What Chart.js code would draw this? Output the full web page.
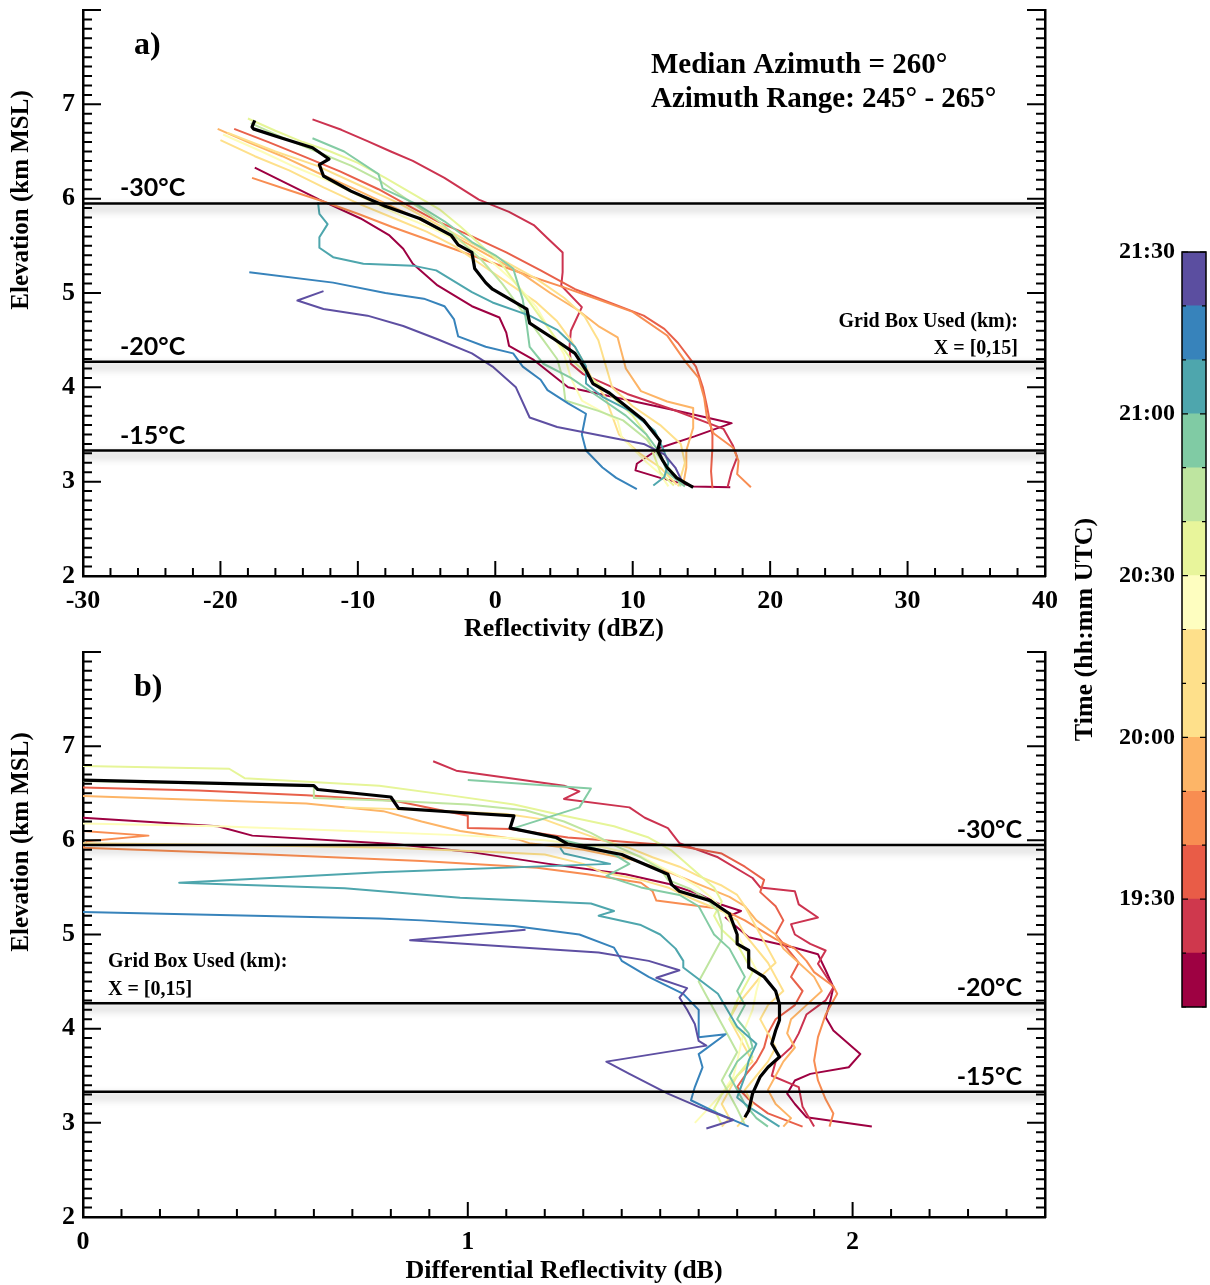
<!DOCTYPE html>
<html><head><meta charset="utf-8">
<script src="https://cdn.jsdelivr.net/npm/chart.js@4.4.1/dist/chart.umd.min.js"></script>
<style>
html,body{margin:0;padding:0;background:#fff;width:1210px;height:1285px;overflow:hidden;}
canvas{position:absolute;}
#ca{left:0;top:0;width:1075px;height:645px;}
#cb{left:0;top:640px;width:1075px;height:645px;}
#cc{left:1060px;top:230px;width:150px;height:800px;}
</style></head><body>
<canvas id="ca" width="1075" height="645"></canvas>
<canvas id="cb" width="1075" height="645"></canvas>
<canvas id="cc" width="150" height="800"></canvas>
<script>
// ---------------- DATA ----------------
const scanTimes = ['19:15','19:25','19:35','19:45','19:55','20:05','20:15','20:25','20:35','20:45','20:55','21:05','21:15','21:25'];
const timeColors = ['#9e0142','#cc3350','#e8604a','#f88d52','#fdb466','#fee08b','#fee08b','#fdfdb8','#e6f598','#bfe5a0','#84cca4','#4ea6ad','#3783bb','#5e4fa2'];

const reflRange = [-30, 40];
const zdrRange = [0, 2.5];
const elevRange = [2, 8];
const reflTicks = [-30,-20,-10,0,10,20,30,40];
const zdrTicks = [0,1,2];
const elevTicks = [2,3,4,5,6,7];

const isothermElev = [5.95, 4.27, 3.33];
const isothermText = ['-30°C','-20°C','-15°C'];

// Panel a: reflectivity profiles [dBZ, km MSL]
const refl1915 = [[-17.5,6.33],[-15.3,6.17],[-12.8,5.99],[-9.8,5.79],[-7.7,5.61],[-6.7,5.47],[-6.0,5.31],[-4.2,5.08],[-1.7,4.86],[0.3,4.74],[0.8,4.58],[1.0,4.44],[2.8,4.29],[5.3,4.0],[9.8,3.86],[13.3,3.75],[17.2,3.62],[14.5,3.48],[12.0,3.36],[10.3,3.19],[10.2,3.12],[12.0,3.04],[14.4,2.95],[17.1,2.94]];
const refl1925 = [[-13.3,6.84],[-11.2,6.73],[-9.3,6.61],[-7.6,6.5],[-6.0,6.4],[-3.7,6.22],[-1.2,5.99],[1.0,5.86],[2.8,5.72],[3.8,5.58],[4.9,5.43],[4.9,5.22],[4.8,5.08],[6.3,4.85],[5.5,4.6],[5.4,4.43],[5.5,4.25],[6.4,4.14],[9.6,3.93],[13.0,3.76],[16.6,3.56],[17.3,3.38],[17.6,3.26],[17.2,3.11],[16.9,2.94]];
const refl1935 = [[-19.0,6.74],[-16.5,6.6],[-14.3,6.47],[-11.3,6.29],[-8.5,6.1],[-6.0,5.9],[-4.2,5.76],[-1.7,5.6],[0.8,5.43],[3.3,5.24],[5.8,5.04],[8.3,4.9],[10.8,4.76],[12.3,4.62],[13.3,4.47],[14.6,4.22],[15.1,4.0],[15.4,3.8],[15.6,3.65],[15.8,3.5],[15.8,3.36],[15.7,3.11],[15.8,2.93]];
const refl1945 = [[-17.7,6.22],[-15.0,6.09],[-12.5,5.97],[-10.0,5.84],[-7.5,5.7],[-5.0,5.57],[-2.5,5.44],[0.0,5.31],[2.5,5.18],[5.0,5.06],[7.5,4.93],[10.0,4.8],[12.5,4.55],[13.9,4.26],[14.8,4.1],[15.2,3.89],[15.4,3.68],[15.9,3.51],[17.3,3.36],[17.7,3.22],[17.6,3.08],[18.6,2.94]];
const refl1955 = [[-20.2,6.74],[-18.0,6.6],[-15.5,6.45],[-13.0,6.28],[-10.5,6.12],[-8.0,5.95],[-5.5,5.78],[-3.0,5.6],[-0.5,5.4],[2.0,5.2],[4.0,5.0],[6.0,4.82],[7.5,4.65],[8.9,4.53],[9.1,4.42],[9.5,4.2],[10.6,3.96],[12.5,3.85],[14.4,3.78],[14.4,3.57],[13.9,3.33],[13.9,3.15],[13.7,2.99]];
const refl2005 = [[-20.0,6.62],[-17.5,6.45],[-15.0,6.3],[-12.5,6.12],[-10.0,5.95],[-7.5,5.8],[-5.0,5.65],[-3.0,5.5],[-1.0,5.3],[1.0,5.1],[3.0,4.9],[4.5,4.7],[5.5,4.5],[6.3,4.3],[7.0,4.1],[8.0,3.9],[8.5,3.7],[9.0,3.5],[10.5,3.3],[12.0,3.15],[13.2,2.97]];
const refl2015 = [[-19.5,6.7],[-16.0,6.5],[-13.0,6.35],[-10.0,6.15],[-7.0,5.95],[-4.5,5.75],[-2.0,5.55],[0.5,5.35],[3.0,5.15],[5.0,4.95],[6.5,4.75],[7.5,4.5],[8.0,4.25],[8.5,4.0],[10.0,3.8],[12.0,3.6],[13.5,3.4],[13.8,3.2],[13.3,2.95]];
const refl2025 = [[-19.8,6.68],[-17.0,6.5],[-14.5,6.33],[-12.0,6.18],[-9.5,6.0],[-7.0,5.83],[-4.5,5.68],[-2.0,5.5],[0.0,5.3],[1.5,5.1],[3.0,4.85],[4.0,4.6],[5.0,4.35],[5.5,4.1],[6.3,3.86],[8.9,3.65],[9.2,3.47],[10.9,3.22],[12.0,3.08],[12.6,2.95]];
const refl2035 = [[-18.0,6.85],[-16.0,6.72],[-14.0,6.6],[-12.0,6.5],[-10.0,6.38],[-8.0,6.22],[-6.0,6.05],[-4.0,5.88],[-2.5,5.7],[-1.0,5.5],[0.5,5.3],[1.5,5.1],[2.5,4.9],[3.5,4.7],[4.5,4.5],[5.5,4.3],[7.0,4.1],[8.5,3.9],[10.0,3.7],[11.0,3.5],[11.5,3.3],[12.0,3.1],[13.0,2.96]];
const refl2045 = [[-17.8,6.8],[-15.5,6.65],[-13.0,6.5],[-10.5,6.35],[-8.5,6.2],[-7.0,6.05],[-5.5,5.9],[-4.0,5.75],[-2.5,5.55],[-1.0,5.35],[0.5,5.1],[1.5,4.9],[2.5,4.7],[3.5,4.5],[4.5,4.3],[4.9,4.1],[5.1,3.86],[7.5,3.75],[9.3,3.65],[11.0,3.45],[12.0,3.25],[13.2,3.05],[13.5,2.95]];
const refl2055 = [[-13.3,6.64],[-11.0,6.5],[-8.5,6.26],[-8.2,6.11],[-5.7,5.94],[-3.7,5.76],[-1.7,5.54],[0.0,5.4],[1.3,5.26],[2.0,4.93],[2.3,4.65],[2.5,4.43],[3.5,4.25],[5.5,4.1],[7.5,3.9],[9.5,3.7],[11.0,3.5],[12.0,3.3],[12.5,3.1],[13.8,2.95]];
const refl2105 = [[-12.9,5.96],[-12.8,5.84],[-12.2,5.73],[-12.8,5.59],[-12.8,5.48],[-11.8,5.38],[-9.6,5.31],[-6.0,5.29],[-4.3,5.24],[-1.7,5.01],[-0.2,4.9],[2.5,4.76],[4.5,4.61],[5.8,4.43],[6.6,4.22],[6.6,4.04],[7.8,3.9],[9.8,3.75],[11.6,3.54],[12.2,3.35],[12.6,3.2],[12.3,3.05],[11.5,2.96]];
const refl2115 = [[-17.9,5.22],[-11.8,5.11],[-8.0,5.0],[-5.2,4.94],[-3.7,4.86],[-3.0,4.72],[-2.7,4.54],[-0.7,4.43],[1.3,4.36],[2.0,4.22],[3.3,4.08],[3.8,3.97],[5.3,3.83],[6.6,3.72],[6.3,3.5],[6.6,3.33],[7.8,3.15],[8.8,3.04],[10.3,2.92]];
const refl2125 = [[-12.5,5.02],[-14.4,4.92],[-12.5,4.83],[-9.3,4.76],[-6.7,4.65],[-4.2,4.51],[-1.7,4.36],[-0.2,4.22],[1.5,4.0],[2.5,3.68],[4.5,3.58],[8.3,3.47],[10.8,3.4],[12.3,3.29],[13.1,3.15],[13.6,3.0]];
const reflMedian = [[-17.5,6.83],[-17.7,6.76],[-17.6,6.74],[-15.5,6.64],[-13.3,6.54],[-12.1,6.42],[-12.8,6.36],[-12.5,6.24],[-10.5,6.08],[-8.0,5.92],[-5.5,5.79],[-3.2,5.61],[-2.7,5.51],[-1.7,5.43],[-1.5,5.26],[-0.7,5.11],[-0.2,5.04],[2.3,4.83],[2.5,4.68],[4.3,4.51],[5.8,4.36],[6.6,4.18],[7.1,4.04],[8.3,3.94],[10.8,3.65],[12.0,3.43],[11.8,3.33],[12.2,3.22],[12.5,3.15],[13.2,3.04],[14.4,2.94]];

// Panel b: differential reflectivity profiles [dB, km MSL]
const zdr1915 = [[0,6.24],[0.35,6.15],[0.44,6.05],[0.81,5.96],[1.0,5.88],[1.21,5.75],[1.41,5.64],[1.52,5.54],[1.6,5.43],[1.65,5.33],[1.71,5.25],[1.67,5.18],[1.73,4.97],[1.85,4.86],[1.91,4.79],[1.93,4.62],[1.95,4.44],[1.94,4.26],[1.93,4.12],[1.95,3.98],[2.02,3.73],[1.99,3.59],[1.89,3.52],[1.85,3.45],[1.83,3.31],[1.85,3.2],[1.88,3.06],[2.05,2.96]];
const zdr1925 = [[0.91,6.84],[0.97,6.74],[1.25,6.58],[1.29,6.52],[1.25,6.44],[1.42,6.35],[1.46,6.24],[1.52,6.13],[1.55,5.97],[1.65,5.82],[1.74,5.6],[1.76,5.5],[1.85,5.46],[1.86,5.32],[1.91,5.18],[1.84,5.11],[1.85,5.0],[1.89,4.9],[1.93,4.83],[1.91,4.69],[1.95,4.44],[1.93,4.3],[1.88,4.15],[1.86,3.95],[1.84,3.8],[1.8,3.65],[1.79,3.5],[1.86,3.38],[1.87,3.17],[1.9,2.96]];
const zdr1935 = [[0,6.56],[0.3,6.53],[0.58,6.48],[0.81,6.42],[1.0,6.26],[1.0,6.13],[1.11,6.12],[1.26,6.03],[1.55,5.94],[1.66,5.86],[1.72,5.72],[1.77,5.58],[1.76,5.45],[1.8,5.3],[1.82,5.15],[1.8,5.0],[1.83,4.85],[1.86,4.7],[1.84,4.55],[1.87,4.4],[1.85,4.25],[1.8,4.1],[1.78,3.95],[1.77,3.8],[1.75,3.65],[1.72,3.5],[1.7,3.38],[1.73,3.25],[1.78,3.1],[1.87,2.96]];
const zdr1945 = [[0,6.1],[0.17,6.05],[0.01,5.99],[0,5.92],[0.48,5.85],[0.88,5.78],[1.18,5.71],[1.31,5.64],[1.45,5.55],[1.48,5.46],[1.49,5.36],[1.66,5.27],[1.72,5.15],[1.76,5.05],[1.8,4.95],[1.85,4.85],[1.88,4.72],[1.9,4.6],[1.95,4.45],[1.96,4.37],[1.93,4.15],[1.91,3.91],[1.9,3.66],[1.91,3.45],[1.93,3.25],[1.95,3.1],[1.94,2.96]];
const zdr1955 = [[0,6.47],[0.58,6.39],[0.78,6.31],[0.88,6.2],[0.98,6.1],[1.13,6.01],[1.16,5.97],[1.3,5.9],[1.42,5.8],[1.5,5.7],[1.56,5.6],[1.62,5.5],[1.68,5.4],[1.72,5.3],[1.75,5.15],[1.8,5.0],[1.82,4.85],[1.86,4.7],[1.9,4.55],[1.92,4.4],[1.88,4.25],[1.84,4.1],[1.83,3.95],[1.85,3.8],[1.82,3.65],[1.8,3.5],[1.78,3.35],[1.8,3.2],[1.84,3.05],[1.82,2.96]];
const zdr2005 = [[0,5.97],[0.4,5.95],[0.8,5.92],[1.05,5.88],[1.2,5.85],[1.3,5.75],[1.35,5.66],[1.45,5.58],[1.52,5.5],[1.56,5.42],[1.6,5.35],[1.66,5.25],[1.7,5.15],[1.72,5.0],[1.75,4.85],[1.78,4.7],[1.8,4.55],[1.82,4.4],[1.78,4.25],[1.76,4.1],[1.78,3.95],[1.8,3.8],[1.78,3.65],[1.75,3.5],[1.72,3.35],[1.74,3.2],[1.72,3.05],[1.7,2.96]];
const zdr2015 = [[0.68,6.35],[0.9,6.32],[1.1,6.28],[1.2,6.22],[1.28,6.1],[1.35,6.0],[1.42,5.92],[1.48,5.82],[1.55,5.72],[1.6,5.62],[1.66,5.52],[1.7,5.42],[1.72,5.3],[1.74,5.15],[1.76,5.0],[1.78,4.85],[1.8,4.7],[1.76,4.55],[1.73,4.4],[1.7,4.25],[1.68,4.1],[1.7,3.95],[1.72,3.8],[1.74,3.65],[1.7,3.5],[1.68,3.35],[1.66,3.2],[1.68,3.05],[1.66,2.96]];
const zdr2025 = [[0,6.18],[0.35,6.15],[0.7,6.1],[1.0,6.05],[1.2,6.0],[1.35,5.93],[1.45,5.83],[1.5,5.72],[1.55,5.62],[1.6,5.5],[1.63,5.4],[1.66,5.28],[1.68,5.15],[1.7,5.0],[1.72,4.85],[1.74,4.7],[1.76,4.55],[1.75,4.4],[1.74,4.2],[1.72,4.0],[1.71,3.84],[1.7,3.65],[1.69,3.49],[1.66,3.31],[1.62,3.13],[1.59,3.0]];
const zdr2035 = [[0,6.79],[0.38,6.76],[0.42,6.66],[0.77,6.58],[0.95,6.48],[1.12,6.38],[1.25,6.26],[1.38,6.15],[1.47,6.03],[1.53,5.89],[1.6,5.64],[1.64,5.5],[1.66,5.35],[1.64,5.2],[1.66,5.05],[1.7,4.9],[1.72,4.75],[1.74,4.6],[1.72,4.45],[1.7,4.3],[1.68,4.1],[1.72,3.9],[1.74,3.7],[1.7,3.5],[1.66,3.3],[1.64,3.15],[1.66,2.98]];
const zdr2045 = [[0,6.63],[0.6,6.58],[0.6,6.45],[0.8,6.42],[1.0,6.38],[1.15,6.32],[1.25,6.2],[1.32,6.08],[1.38,5.95],[1.45,5.82],[1.5,5.7],[1.52,5.58],[1.58,5.48],[1.62,5.38],[1.65,5.25],[1.66,5.1],[1.66,4.95],[1.64,4.8],[1.62,4.65],[1.6,4.5],[1.62,4.35],[1.64,4.2],[1.66,4.05],[1.68,3.9],[1.7,3.75],[1.68,3.6],[1.66,3.45],[1.68,3.3],[1.7,3.15],[1.72,2.98]];
const zdr2055 = [[1.0,6.64],[1.32,6.55],[1.29,6.35],[1.12,6.13],[1.2,6.05],[1.3,5.95],[1.38,5.85],[1.42,5.75],[1.36,5.62],[1.45,5.5],[1.55,5.42],[1.6,5.3],[1.62,5.15],[1.64,5.0],[1.68,4.85],[1.7,4.7],[1.72,4.55],[1.7,4.4],[1.72,4.25],[1.7,4.1],[1.73,3.95],[1.74,3.8],[1.7,3.65],[1.68,3.5],[1.7,3.35],[1.72,3.2],[1.75,3.05],[1.78,2.96]];
const zdr2105 = [[1.24,5.92],[1.25,5.86],[1.37,5.75],[0.77,5.66],[0.25,5.55],[0.68,5.49],[0.98,5.39],[1.32,5.33],[1.38,5.25],[1.34,5.2],[1.45,5.1],[1.5,5.0],[1.54,4.85],[1.56,4.72],[1.56,4.65],[1.65,4.37],[1.7,4.02],[1.75,3.84],[1.73,3.66],[1.72,3.49],[1.7,3.27],[1.73,3.17],[1.81,2.96]];
const zdr2115 = [[0,5.24],[0.77,5.17],[0.88,5.15],[1.12,5.09],[1.29,5.0],[1.38,4.86],[1.4,4.72],[1.47,4.55],[1.56,4.37],[1.6,4.2],[1.6,3.91],[1.67,3.94],[1.6,3.73],[1.61,3.59],[1.59,3.38],[1.58,3.24],[1.65,3.1],[1.73,2.96]];
const zdr2125 = [[1.15,5.05],[0.85,4.94],[1.34,4.81],[1.47,4.72],[1.55,4.62],[1.49,4.54],[1.57,4.43],[1.55,4.33],[1.57,4.2],[1.59,4.05],[1.6,3.87],[1.62,3.82],[1.36,3.65],[1.42,3.52],[1.52,3.31],[1.6,3.17],[1.69,3.03],[1.62,2.94]];
const zdrMedian = [[0,6.64],[0.3,6.61],[0.6,6.58],[0.61,6.54],[0.8,6.46],[0.82,6.34],[1.0,6.29],[1.12,6.26],[1.11,6.13],[1.23,6.03],[1.26,5.96],[1.4,5.85],[1.52,5.64],[1.53,5.53],[1.55,5.46],[1.63,5.36],[1.68,5.22],[1.7,5.0],[1.7,4.9],[1.73,4.83],[1.73,4.65],[1.77,4.55],[1.8,4.4],[1.81,4.26],[1.81,4.09],[1.8,3.98],[1.79,3.84],[1.81,3.7],[1.78,3.59],[1.76,3.49],[1.74,3.31],[1.73,3.13],[1.72,3.06]];

// Colorbar (time bins)
const cbEdges = ['19:10','19:20','19:30','19:40','19:50','20:00','20:10','20:20','20:30','20:40','20:50','21:00','21:10','21:20','21:30'];
const cbTickLabels = ['19:30','20:00','20:30','21:00','21:30'];
const cbColors = ['#9e0142','#cf384d','#e95c47','#f88d51','#fdb567','#fee08b','#fee08b','#fefec0','#e8f59b','#bee5a0','#80cba4','#4ea6ad','#3783bb','#5b4ea0'];

const reflSeries = [refl1915,refl1925,refl1935,refl1945,refl1955,refl2005,refl2015,refl2025,refl2035,refl2045,refl2055,refl2105,refl2115,refl2125];
const zdrSeries = [zdr1915,zdr1925,zdr1935,zdr1945,zdr1955,zdr2005,zdr2015,zdr2025,zdr2035,zdr2045,zdr2055,zdr2105,zdr2115,zdr2125];

// ---------------- RENDER ----------------
const SERIF = "'Liberation Serif','Times New Roman',serif";
const SANS = "Lato,'Open Sans','DejaVu Sans',sans-serif";

function buildDatasets(series, median, xRange) {
  const ds = [];
  isothermElev.forEach(e => ds.push({label:'iso', data:[{x:xRange[0],y:e},{x:xRange[1],y:e}], borderColor:'#000', borderWidth:2.5, isotherm:true, order:0}));
  ds.push({label:'median', data: median.map(p=>({x:p[0],y:p[1]})), borderColor:'#000', borderWidth:3.2, order:1});
  series.forEach((s,i)=>ds.push({label:scanTimes[i], data:s.map(p=>({x:p[0],y:p[1]})), borderColor:timeColors[i], borderWidth:2, order:100-i}));
  ds.forEach(d=>{d.showLine=true; d.pointRadius=0; d.pointHoverRadius=0; d.tension=0; d.fill=false; d.borderJoinStyle='round';});
  return ds;
}

const shadowPlugin = {
  id:'isoShadow',
  beforeDatasetDraw(chart, args){
    if (chart.data.datasets[args.index].isotherm){
      const c = chart.ctx; c.save();
      c.shadowColor='rgba(0,0,0,0.38)'; c.shadowBlur=8; c.shadowOffsetY=5;
    }
  },
  afterDatasetDraw(chart, args){
    if (chart.data.datasets[args.index].isotherm) chart.ctx.restore();
  }
};

function makeDeco(cfg){
  return {
    id:'deco',
    afterDraw(chart){
      const ctx = chart.ctx, a = chart.chartArea;
      const xs = chart.scales.x, ys = chart.scales.y;
      ctx.save();
      ctx.strokeStyle='#000'; ctx.lineWidth=2;
      const ny = Math.round((ys.max-ys.min)/cfg.yMinor);
      for (let i=0;i<=ny;i++){
        const v = ys.min + i*cfg.yMinor;
        const maj = Math.abs(v/cfg.yMajor - Math.round(v/cfg.yMajor)) < 1e-6;
        const p = ys.getPixelForValue(v);
        const L = maj ? 18 : 9;
        ctx.beginPath();
        ctx.moveTo(a.left,p); ctx.lineTo(a.left+L,p);
        ctx.moveTo(a.right,p); ctx.lineTo(a.right-L,p);
        ctx.stroke();
      }
      const nx = Math.round((xs.max-xs.min)/cfg.xMinor);
      for (let i=1;i<nx;i++){
        const v = xs.min + i*cfg.xMinor;
        const maj = Math.abs(v/cfg.xMajor - Math.round(v/cfg.xMajor)) < 1e-6;
        const p = xs.getPixelForValue(v);
        ctx.beginPath(); ctx.moveTo(p,a.bottom); ctx.lineTo(p,a.bottom-(maj?15:8)); ctx.stroke();
      }
      ctx.fillStyle='#000';
      ctx.font = `bold 25px ${SANS}`;
      ctx.textBaseline='alphabetic';
      ctx.textAlign = cfg.tempAlign;
      isothermElev.forEach((e,i)=>{
        ctx.fillText(isothermText[i], cfg.tempX, ys.getPixelForValue(e)-7);
      });
      cfg.texts.forEach(t=>{
        ctx.font = t.font; ctx.textAlign = t.align || 'left'; ctx.textBaseline='middle';
        ctx.fillText(t.text, t.x, t.y);
      });
      ctx.translate(cfg.yTitle[0], cfg.yTitle[1]);
      ctx.rotate(-Math.PI/2);
      ctx.font = `bold 25px ${SERIF}`; ctx.textAlign='center'; ctx.textBaseline='middle';
      ctx.fillText('Elevation (km MSL)',0,0);
      ctx.restore();
    }
  };
}

function zeroPad(s){ s.paddingTop=0; s.paddingBottom=0; s.paddingLeft=0; s.paddingRight=0; }

function panelOptions(xRange, xTicks, xTitle, xHeight, padTop, titlePadBottom){
  const tickFont = {family:SERIF, size:26, weight:'bold'};
  return {
    responsive:false, animation:false, events:[],
    layout:{padding:{left:0,right:30,top:padTop,bottom:0}},
    plugins:{legend:{display:false}, tooltip:{enabled:false}},
    scales:{
      x:{type:'linear', position:'bottom', min:xRange[0], max:xRange[1],
        afterBuildTicks:s=>{s.ticks = xTicks.map(v=>({value:v}));},
        grid:{display:false, drawTicks:false},
        border:{display:true, color:'#000', width:2.5},
        ticks:{color:'#000', font:tickFont, padding:10, maxRotation:0, autoSkip:false},
        title:{display:true, text:xTitle, color:'#000', font:{family:SERIF,size:26,weight:'bold',lineHeight:1}, padding:{top:0,bottom:titlePadBottom}},
        afterFit:s=>{s.height = xHeight; zeroPad(s);}
      },
      y:{type:'linear', position:'left', min:elevRange[0], max:elevRange[1],
        afterBuildTicks:s=>{s.ticks = elevTicks.map(v=>({value:v}));},
        grid:{display:false, drawTicks:false},
        border:{display:true, color:'#000', width:2.5},
        ticks:{color:'#000', font:tickFont, padding:8},
        afterFit:s=>{s.width = 83; zeroPad(s);}
      },
      y2:{type:'linear', position:'right', min:elevRange[0], max:elevRange[1],
        grid:{display:false, drawTicks:false},
        border:{display:true, color:'#000', width:2.5},
        ticks:{display:false},
        afterFit:s=>{s.width = 0; zeroPad(s);}
      }
    }
  };
}

new Chart(document.getElementById('ca'), {
  type:'scatter',
  data:{datasets: buildDatasets(reflSeries, reflMedian, reflRange)},
  options: panelOptions(reflRange, reflTicks, 'Reflectivity (dBZ)', 69, 10, 3),
  plugins:[shadowPlugin, makeDeco({
    yMajor:1, yMinor:0.1, xMajor:10, xMinor:2,
    tempX:120, tempAlign:'left', yTitle:[22,200],
    texts:[
      {text:'a)', x:134, y:46, font:`bold 32px ${SERIF}`},
      {text:'Median Azimuth = 260°', x:651, y:66, font:`bold 29px ${SERIF}`},
      {text:'Azimuth Range: 245° - 265°', x:651, y:100, font:`bold 29px ${SERIF}`},
      {text:'Grid Box Used (km):', x:1018, y:322, align:'right', font:`bold 20px ${SERIF}`},
      {text:'X = [0,15]', x:1018, y:349, align:'right', font:`bold 20px ${SERIF}`}
    ]
  })]
});

new Chart(document.getElementById('cb'), {
  type:'scatter',
  data:{datasets: buildDatasets(zdrSeries, zdrMedian, zdrRange)},
  options: panelOptions(zdrRange, zdrTicks, 'Differential Reflectivity (dB)', 68, 12, 1),
  plugins:[shadowPlugin, makeDeco({
    yMajor:1, yMinor:0.1, xMajor:1, xMinor:0.1,
    tempX:1022, tempAlign:'right', yTitle:[22,202],
    texts:[
      {text:'b)', x:134, y:48, font:`bold 32px ${SERIF}`},
      {text:'Grid Box Used (km):', x:108, y:322, font:`bold 20px ${SERIF}`},
      {text:'X = [0,15]', x:108, y:350, font:`bold 20px ${SERIF}`}
    ]
  })]
});

// Colorbar
const toMin = s => { const [h,m] = s.split(':').map(Number); return h*60+m; };
const cbStart = toMin(cbEdges[0]);
const cbTotal = toMin(cbEdges[cbEdges.length-1]) - cbStart;
const cbWidths = cbEdges.slice(0,-1).map((e,i)=>toMin(cbEdges[i+1])-toMin(e));
const fmtTime = v => { const t = cbStart + v; const h = Math.floor(t/60), m = t%60; return h + ':' + String(m).padStart(2,'0'); };

const cbDeco = {
  id:'cbDeco',
  afterDraw(chart){
    const ctx = chart.ctx, a = chart.chartArea, ys = chart.scales.y;
    ctx.save();
    ctx.strokeStyle='#000'; ctx.lineWidth=1.5;
    ctx.strokeRect(a.left, a.top, a.right-a.left, a.bottom-a.top);
    ctx.lineWidth=1.2;
    for (let v=0; v<=cbTotal; v+=10){
      const p = ys.getPixelForValue(v);
      const L = ((v+cbStart) % 30 === 0) ? 6 : 4;
      ctx.beginPath();
      ctx.moveTo(a.left,p); ctx.lineTo(a.left+L,p);
      ctx.moveTo(a.right,p); ctx.lineTo(a.right-L,p);
      ctx.stroke();
    }
    ctx.restore();
  }
};

new Chart(document.getElementById('cc'), {
  type:'bar',
  data:{labels:['time'], datasets: cbWidths.map((w,i)=>({data:[w], backgroundColor:cbColors[i], borderWidth:0, barPercentage:1, categoryPercentage:1}))},
  options:{
    responsive:false, animation:false, events:[],
    layout:{padding:{left:0,right:4,top:22,bottom:23}},
    plugins:{legend:{display:false}, tooltip:{enabled:false}},
    scales:{
      x:{display:false, stacked:true},
      y:{stacked:true, min:0, max:cbTotal, position:'left',
        afterBuildTicks:s=>{s.ticks = cbTickLabels.map(l=>({value:toMin(l)-cbStart}));},
        ticks:{color:'#000', font:{family:SERIF,size:24,weight:'bold'}, padding:7, callback:v=>fmtTime(v)},
        grid:{display:false, drawTicks:false},
        border:{display:false},
        title:{display:true, text:'Time (hh:mm UTC)', color:'#000', font:{family:SERIF,size:26,weight:'bold',lineHeight:1}, padding:{top:12,bottom:0}},
        afterFit:s=>{s.width = 122; zeroPad(s);}
      }
    }
  },
  plugins:[cbDeco]
});
</script>
</body></html>
